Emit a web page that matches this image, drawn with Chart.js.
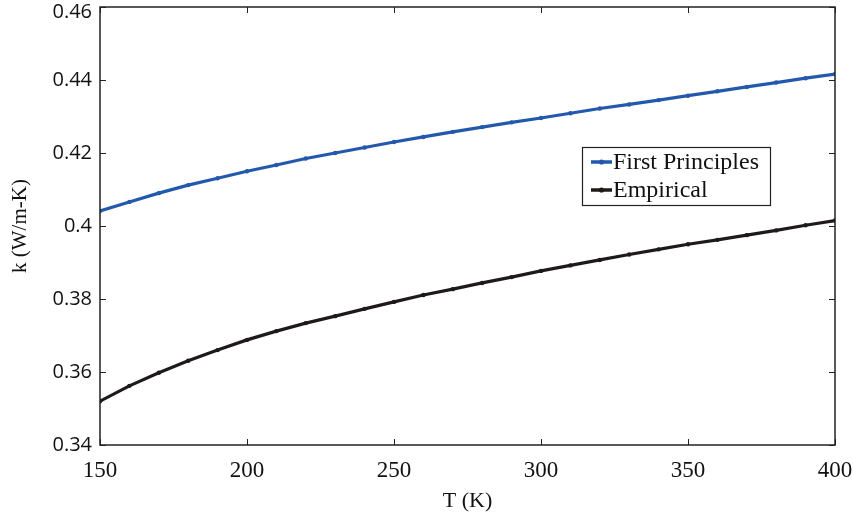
<!DOCTYPE html>
<html>
<head>
<meta charset="utf-8">
<script src="https://cdn.jsdelivr.net/npm/chart.js@4.4.1/dist/chart.umd.min.js"></script>
<style>
html,body{margin:0;padding:0;background:#fff;}
#wrap{width:853px;height:525px;position:relative;}
</style>
</head>
<body>
<div id="wrap"><canvas id="c" width="853" height="525"></canvas></div>
<script>
const temperatures = [150,160,170,180,190,200,210,220,230,240,250,260,270,280,290,300,310,320,330,340,350,360,370,380,390,400];
const firstPrinciples = [0.4041,0.4066,0.4090,0.4112,0.4131,0.4150,0.4167,0.4185,0.4200,0.4215,0.4230,0.4244,0.4258,0.4271,0.4284,0.4296,0.4309,0.4322,0.4333,0.4345,0.4357,0.4369,0.4381,0.4393,0.4405,0.4416];
const empirical = [0.3520,0.3562,0.3598,0.3631,0.3660,0.3688,0.3712,0.3734,0.3753,0.3773,0.3792,0.3811,0.3827,0.3844,0.3860,0.3877,0.3892,0.3907,0.3922,0.3936,0.3950,0.3962,0.3975,0.3988,0.4002,0.4015];
const seriesNames = ["First Principles","Empirical"];
const seriesColors = ["#2359ad","#1e1a1a"];
const xTicks = [150,200,250,300,350,400];
const yTicks = [0.34,0.36,0.38,0.40,0.42,0.44,0.46];

const PLOT = {left:100, right:835, top:7, bottom:445};

const labelFix = {
  id:'labelFix',
  beforeDraw(chart){
    const ys = chart.scales.y;
    const items = ys.getLabelItems(chart.chartArea);
    items.forEach(it=>{
      if (it.options && it.options.translation && it.options.translation[1] < 12) it.options.translation[1] = 12;
    });
  }
};

const boxPlugin = {
  id:'boxTicks',
  afterDatasetsDraw(chart){
    const ctx = chart.ctx, a = chart.chartArea;
    const xs = chart.scales.x, ys = chart.scales.y;
    ctx.save();
    ctx.strokeStyle = '#222';
    ctx.lineWidth = 1.5;
    ctx.strokeRect(a.left, a.top, a.right-a.left, a.bottom-a.top);
    ctx.lineWidth = 1;
    ctx.beginPath();
    const L = 6;
    xTicks.forEach(v=>{
      const px = Math.round(xs.getPixelForValue(v))+0.5;
      ctx.moveTo(px,a.bottom); ctx.lineTo(px,a.bottom-L);
      ctx.moveTo(px,a.top); ctx.lineTo(px,a.top+L);
    });
    yTicks.forEach(v=>{
      const py = Math.round(ys.getPixelForValue(v))+0.5;
      ctx.moveTo(a.left,py); ctx.lineTo(a.left+L,py);
      ctx.moveTo(a.right,py); ctx.lineTo(a.right-L,py);
    });
    ctx.stroke();
    // legend
    const lx = 582, ly = 147, lw = 188, lh = 58;
    ctx.fillStyle = '#fff';
    ctx.fillRect(lx,ly,lw,lh);
    ctx.strokeStyle = '#222';
    ctx.lineWidth = 1.2;
    ctx.strokeRect(lx+0.5,ly+0.5,lw,lh);
    ctx.font = '24px "Liberation Serif", "Times New Roman", serif';
    ctx.textBaseline = 'middle';
    chart.data.datasets.forEach((ds,i)=>{
      const cy = ly + 15 + i*28;
      ctx.strokeStyle = ds.borderColor;
      ctx.lineWidth = 3.5;
      ctx.beginPath(); ctx.moveTo(lx+9,cy); ctx.lineTo(lx+30,cy); ctx.stroke();
      ctx.fillStyle = ds.borderColor;
      ctx.beginPath(); ctx.arc(lx+19.5,cy,2.6,0,Math.PI*2); ctx.fill();
      ctx.fillStyle = '#111';
      ctx.fillText(ds.label, lx+31, cy+1);
    });
    ctx.restore();
  }
};

new Chart(document.getElementById('c'), {
  type:'line',
  data:{
    datasets:[
      {label:seriesNames[0], data:temperatures.map((t,i)=>({x:t,y:firstPrinciples[i]})), borderColor:seriesColors[0], backgroundColor:seriesColors[0], borderWidth:3.2, pointRadius:2.2, pointHoverRadius:2.2, pointBorderWidth:0, tension:0},
      {label:seriesNames[1], data:temperatures.map((t,i)=>({x:t,y:empirical[i]})), borderColor:seriesColors[1], backgroundColor:seriesColors[1], borderWidth:3.2, pointRadius:2.2, pointHoverRadius:2.2, pointBorderWidth:0, tension:0}
    ]
  },
  options:{
    responsive:false,
    animation:false,
    events:[],
    layout:{padding:{top:PLOT.top, right:853-PLOT.right, left:0, bottom:0}},
    plugins:{legend:{display:false}, tooltip:{enabled:false}},
    scales:{
      x:{
        type:'linear', min:150, max:400,
        afterBuildTicks(s){ s.ticks = xTicks.map(v=>({value:v})); },
        afterFit(s){ s.height = 525 - PLOT.bottom; s.paddingLeft = 0; s.paddingRight = 0; },
        grid:{display:false, drawTicks:false},
        border:{display:false},
        ticks:{padding:12, color:'#111', font:{family:'"Liberation Serif", "Times New Roman", serif', size:23}, maxRotation:0},
        title:{display:true, text:'T (K)', color:'#111', font:{family:'"Liberation Serif", "Times New Roman", serif', size:22}, padding:{top:4,bottom:11}}
      },
      y:{
        type:'linear', min:0.34, max:0.46,
        afterBuildTicks(s){ s.ticks = yTicks.map(v=>({value:v})); },
        afterFit(s){ s.width = PLOT.left; s.paddingTop = 0; s.paddingBottom = 0; },
        grid:{display:false, drawTicks:false},
        border:{display:false},
        ticks:{padding:8, color:'#111', font:{family:'"Open Sans", sans-serif', size:20},
          callback:(v)=>String(Number(v.toFixed(2)))},
        title:{display:true, text:'k (W/m-K)', color:'#111', font:{family:'"Liberation Serif", "Times New Roman", serif', size:21}, padding:{top:8,bottom:0}}
      }
    }
  },
  plugins:[labelFix, boxPlugin]
});
</script>
</body>
</html>
